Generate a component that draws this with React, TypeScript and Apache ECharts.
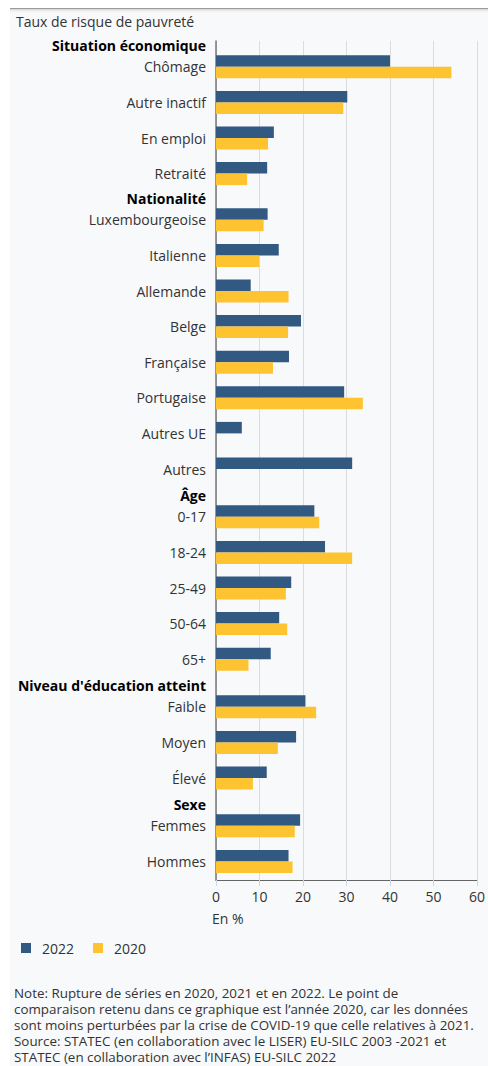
import React, { useEffect, useRef } from "react";
import * as echarts from "echarts";

// ---- Data ----
const groupTitles = [
  "Situation économique",
  "Nationalité",
  "Âge",
  "Niveau d'éducation atteint",
  "Sexe",
];

const catEco = ["Chômage", "Autre inactif", "En emploi", "Retraité"];
const eco2022 = [39.1, 29.5, 13.0, 11.5];
const eco2020 = [52.9, 28.6, 11.7, 7.0];

const catNat = [
  "Luxembourgeoise",
  "Italienne",
  "Allemande",
  "Belge",
  "Française",
  "Portugaise",
  "Autres UE",
  "Autres",
];
const nat2022 = [11.6, 14.1, 7.8, 19.1, 16.4, 28.8, 5.8, 30.6];
const nat2020 = [10.7, 9.7, 16.3, 16.2, 12.8, 33.0, null, null];

const catAge = ["0-17", "18-24", "25-49", "50-64", "65+"];
const age2022 = [22.1, 24.5, 16.9, 14.2, 12.3];
const age2020 = [23.2, 30.6, 15.7, 16.0, 7.3];

const catEdu = ["Faible", "Moyen", "Élevé"];
const edu2022 = [20.1, 18.0, 11.4];
const edu2020 = [22.5, 13.9, 8.3];

const catSex = ["Femmes", "Hommes"];
const sex2022 = [18.9, 16.3];
const sex2020 = [17.7, 17.2];

const xTicks = { min: 0, max: 60, interval: 10 };

const seriesNames = ["2022", "2020"];
const titleText = "Taux de risque de pauvreté";
const unitText = "En %";
const noteLines = [
  "Note: Rupture de séries en 2020, 2021 et en 2022. Le point de",
  "comparaison retenu dans ce graphique est l’année 2020, car les données",
  "sont moins perturbées par la crise de COVID-19 que celle relatives à 2021.",
  "Source: STATEC (en collaboration avec le LISER) EU-SILC 2003 -2021 et",
  "STATEC (en collaboration avec l’INFAS) EU-SILC 2022",
];

const groups = [
  { cats: catEco, a: eco2022, b: eco2020 },
  { cats: catNat, a: nat2022, b: nat2020 },
  { cats: catAge, a: age2022, b: age2020 },
  { cats: catEdu, a: edu2022, b: edu2020 },
  { cats: catSex, a: sex2022, b: sex2020 },
];

// ---- Layout / style ----
const FONT = "Open Sans";
const FS = 14;
const BLUE = "#325982";
const YELLOW = "#fec330";
const LEFT = 216;
const RIGHT = 5;
const ROW = 35.6;
const groupTops = [49, 202, 499, 689, 808];

export default function App() {
  const ref = useRef<HTMLDivElement>(null);

  useEffect(() => {
    if (!ref.current) return;
    const chart = echarts.init(ref.current, undefined, { renderer: "svg" });

    const grids: any[] = [
      { left: LEFT, right: RIGHT, top: 41, bottom: 1066 - 880 },
    ];
    const xAxes: any[] = [
      {
        type: "value",
        gridIndex: 0,
        ...xTicks,
        axisLine: { show: true, onZero: false, lineStyle: { color: "#666", width: 1 } },
        axisTick: { show: true, length: 6, lineStyle: { color: "#ccd6eb" } },
        axisLabel: { fontFamily: FONT, fontSize: FS, color: "#333", margin: 9 },
        splitLine: { show: true, lineStyle: { color: "#dcdcdc", width: 1 } },
      },
    ];
    const yAxes: any[] = [
      {
        type: "value",
        gridIndex: 0,
        min: 0,
        max: 1,
        axisLine: { show: true, lineStyle: { color: "#777", width: 1.5 } },
        axisTick: { show: false },
        axisLabel: { show: false },
        splitLine: { show: false },
      },
    ];
    const series: any[] = [];
    const graphics: any[] = [];

    groups.forEach((g, i) => {
      const gi = i + 1;
      grids.push({
        left: LEFT,
        right: RIGHT,
        top: groupTops[i],
        height: g.cats.length * ROW,
      });
      xAxes.push({ type: "value", gridIndex: gi, ...xTicks, show: false });
      yAxes.push({
        type: "category",
        gridIndex: gi,
        inverse: true,
        data: g.cats,
        axisLine: { show: false },
        axisTick: { show: false },
        splitLine: { show: false },
        axisLabel: {
          fontFamily: FONT,
          fontSize: FS,
          color: "#333",
          margin: 10,
          padding: [4, 0, 0, 0],
        },
      });
      series.push({
        type: "bar",
        name: seriesNames[0],
        xAxisIndex: gi,
        yAxisIndex: gi,
        data: g.a,
        barWidth: 11.5,
        barGap: "0%",
        itemStyle: { color: BLUE },
      });
      series.push({
        type: "bar",
        name: seriesNames[1],
        xAxisIndex: gi,
        yAxisIndex: gi,
        data: g.b,
        barWidth: 11.5,
        barGap: "0%",
        itemStyle: { color: YELLOW },
      });
      graphics.push({
        type: "text",
        x: LEFT - 10,
        y: groupTops[i] - 4,
        style: {
          text: groupTitles[i],
          font: `bold ${FS}px '${FONT}'`,
          fill: "#000",
          textAlign: "right",
          textVerticalAlign: "middle",
        },
      });
    });

    graphics.push({
      type: "text",
      x: 16,
      y: 21,
      style: {
        text: titleText,
        font: `${FS}px '${FONT}'`,
        fill: "#333",
        textAlign: "left",
        textVerticalAlign: "middle",
      },
    });
    graphics.push({
      type: "text",
      x: 212,
      y: 918,
      style: {
        text: unitText,
        font: `${FS}px '${FONT}'`,
        fill: "#333",
        textAlign: "left",
        textVerticalAlign: "middle",
      },
    });
    noteLines.forEach((line, k) => {
      graphics.push({
        type: "text",
        x: 14,
        y: 993 + k * 15.9,
        style: {
          text: line,
          font: `13.4px '${FONT}'`,
          fill: "#333",
          textAlign: "left",
          textVerticalAlign: "middle",
        },
      });
    });

    chart.setOption({
      animation: false,
      backgroundColor: "transparent",
      grid: grids,
      xAxis: xAxes,
      yAxis: yAxes,
      series,
      legend: {
        data: seriesNames,
        left: 16,
        top: 936,
        icon: "rect",
        itemWidth: 10,
        itemHeight: 10,
        itemGap: 19,
        textStyle: {
          fontFamily: FONT,
          fontSize: FS,
          color: "#333",
          padding: [0, 0, 0, 6],
        },
      },
      graphic: graphics,
    });

    return () => chart.dispose();
  }, []);

  return (
    <div
      style={{
        position: "absolute",
        left: 0,
        top: 0,
        width: 488,
        height: 1066,
        background: "#fff",
        overflow: "hidden",
      }}
    >
      <div
        style={{
          position: "absolute",
          left: 10,
          top: 8,
          right: 0,
          bottom: 0,
          background: "#f7f9fb",
          borderTop: "1px solid #9a9a9a",
          boxShadow: "inset 0 3px 3px -2px rgba(0,0,0,0.18)",
        }}
      />
      <div
        ref={ref}
        style={{ position: "absolute", left: 0, top: 0, width: 488, height: 1066 }}
      />
    </div>
  );
}
